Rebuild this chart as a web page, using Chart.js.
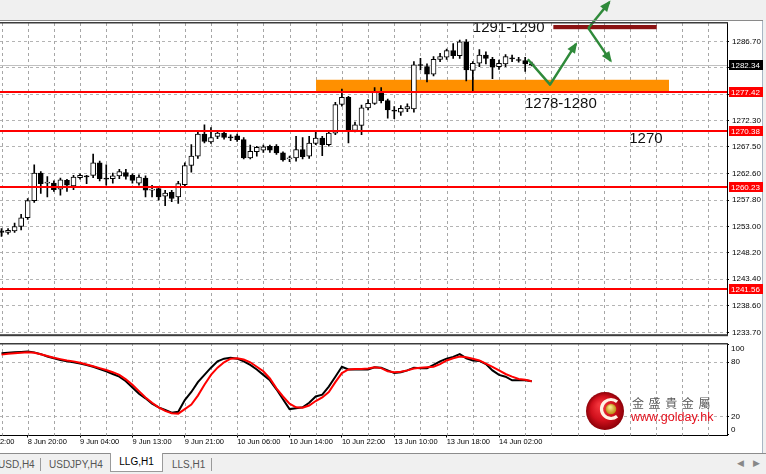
<!DOCTYPE html>
<html>
<head>
<meta charset="utf-8">
<script src="https://cdn.jsdelivr.net/npm/chart.js@4.4.1/dist/chart.umd.min.js"></script>
<style>
body { margin:0; width:766px; height:474px; background:#f0f0f0; overflow:hidden; position:relative; font-family:"Liberation Sans", Arial, sans-serif; }
#paper { position:absolute; left:0; top:20px; width:762px; height:433px; background:#fff; border-right:1px solid #a9b6c4; }
#main { position:absolute; left:0; top:0; }
#osc { position:absolute; left:0; top:343px; }
#tabs { position:absolute; left:0; top:453px; width:766px; height:21px; border-top:1px solid #8c8c8c; background:#f0f0f0; font-size:10px; color:#555; }
#tabs span { position:absolute; top:5px; white-space:nowrap; }
#tabs .sep { top:4px; width:1px; height:13px; background:#9a9a9a; }
#tabs .active { top:-1px; height:18px; line-height:18px; background:#fff; border:1px solid #9a9a9a; border-top:none; color:#000; text-align:center; }
#tabs .arr { color:#888; font-size:9px; top:4px; }
</style>
</head>
<body>
<div id="paper"></div>
<canvas id="main" width="766" height="343"></canvas>
<canvas id="osc" width="766" height="105"></canvas>
<div id="tabs">
  <span style="left:-2px">USD,H4</span>
  <span class="sep" style="left:40px"></span>
  <span style="left:49px">USDJPY,H4</span>
  <span class="active" style="left:110px;width:51px">LLG,H1</span>
  <span style="left:172px">LLS,H1</span>
  <span class="sep" style="left:211px"></span>
  <span class="arr" style="left:737px">&#9664;</span>
  <span class="arr" style="left:753px">&#9654;</span>
</div>
<script>
// LLG H1 candles, 8 Jun 16:00 .. 14 Jun 05:00
const open  = [1252.2,1251.9,1252.2,1253.0,1254.6,1257.7,1262.7,1260.9,1260.9,1259.8,
               1261.4,1260.4,1261.9,1262.2,1262.3,1264.6,1261.8,1261.7,1262.2,1262.8,
               1262.3,1260.9,1261.8,1259.6,1259.9,1258.5,1259.2,1258.4,1260.6,1264.1,
               1265.8,1269.8,1268.4,1269.4,1270.0,1269.3,1269.5,1268.8,1265.5,1266.6,
               1266.9,1267.6,1267.6,1266.4,1265.3,1265.5,1267.0,1265.8,1268.1,1269.1,
               1267.9,1270.0,1275.2,1276.5,1270.5,1271.4,1274.6,1275.4,1277.4,1275.9,
               1274.2,1273.8,1274.4,1274.4,1282.4,1282.1,1280.7,1283.4,1283.8,1285.0,
               1284.1,1286.6,1281.4,1282.7,1284.2,1283.4,1282.1,1282.6,1283.7,1283.3,
               1283.2,1282.6];
const high  = [1252.6,1252.6,1253.6,1255.2,1258.1,1264.2,1263.0,1262.1,1261.3,1261.8,
               1261.6,1262.3,1262.6,1262.3,1266.2,1264.9,1264.2,1262.7,1263.4,1263.4,
               1262.6,1262.4,1262.2,1260.5,1260.3,1259.6,1259.6,1261.2,1264.6,1267.9,
               1270.4,1271.5,1271.0,1270.3,1270.3,1269.7,1269.8,1269.2,1267.8,1267.6,
               1267.8,1267.8,1267.9,1266.6,1265.8,1269.4,1269.2,1269.4,1270.2,1269.4,
               1270.3,1275.6,1278.0,1276.7,1272.0,1275.1,1276.1,1278.3,1278.3,1276.2,
               1274.8,1275.0,1275.3,1283.0,1283.6,1282.6,1283.9,1284.5,1285.3,1286.3,
               1286.9,1287.0,1283.0,1285.2,1284.8,1283.8,1283.3,1284.3,1284.2,1283.8,
               1283.8,1282.9];
const low   = [1251.2,1251.6,1251.9,1252.4,1254.3,1257.4,1259.0,1258.4,1259.4,1258.7,
               1259.4,1259.7,1261.6,1260.8,1261.9,1261.3,1260.5,1260.9,1261.7,1261.6,
               1260.9,1260.5,1258.4,1258.4,1257.8,1256.8,1257.5,1257.2,1260.2,1262.9,
               1265.4,1268.2,1268.1,1269.0,1268.9,1268.6,1268.5,1265.3,1265.3,1265.8,
               1266.5,1266.5,1266.1,1264.9,1264.8,1264.9,1265.3,1265.4,1267.9,1265.9,
               1267.6,1269.7,1274.9,1268.2,1270.2,1269.7,1274.2,1275.2,1275.5,1272.7,
               1272.6,1273.2,1273.9,1273.8,1281.5,1279.3,1280.4,1283.0,1283.4,1283.6,
               1283.6,1279.5,1277.4,1282.1,1282.6,1279.9,1281.6,1282.1,1283.0,1282.9,
               1281.2,1282.2];
const close = [1251.9,1252.3,1253.0,1254.6,1257.7,1262.7,1260.8,1261.1,1259.7,1261.5,
               1260.5,1262.0,1262.3,1262.0,1264.6,1261.7,1261.6,1262.2,1263.0,1262.1,
               1261.4,1262.0,1259.6,1259.8,1258.4,1259.1,1258.1,1260.8,1264.1,1265.8,
               1269.8,1268.5,1269.2,1270.0,1269.2,1269.1,1268.8,1265.5,1266.7,1267.4,
               1267.5,1266.9,1266.4,1265.1,1265.5,1267.0,1265.7,1268.2,1269.1,1267.9,
               1270.0,1275.2,1276.5,1270.5,1271.5,1274.6,1275.4,1277.4,1275.9,1274.2,
               1274.0,1274.5,1274.8,1282.4,1282.3,1280.7,1283.4,1283.9,1285.0,1284.1,
               1286.6,1281.5,1282.7,1284.2,1283.6,1282.0,1282.7,1283.9,1283.5,1283.2,
               1282.6,1282.34];

// stochastic oscillator: main (black) and signal (red)
const stochK = [90,90.5,91,91.5,92,91,89,86.5,84.5,82.5,
                81,80,78.5,77,75,72.5,70,67,64,59,
                52,45,40,34,30,27,24,25,38,47,
                58,66,74,81,84,85,84,81,77,72,
                66,60,50,39,28,29,30,35,42,44,
                53,64,75,72,72,72,72,74.5,74,71,
                68,69,71,74,73.5,73.5,77,81,84,86,
                89,84.5,82,81.5,78,71,66,64,60,60,
                60,59];
const stochD = [88.5,89.5,90,90.5,91,90.5,89,87,85,83.5,
                82,81,79.5,77.5,75.5,73.5,71.5,69,66,61,
                55,48,41,35,30,26,23.5,23,28,33,
                43,55,66,74,80,84,84.5,83,80,75,
                70,62,51,42,34,30,29.5,32,37,41,
                47,58,68,72,72.5,72.5,73,74.5,73.5,70,
                69,69.5,71,73,74,74.5,75,78,82,84.5,
                86.5,85.5,84,82,78.5,75,71,67,64,61.5,
                60.5,59];

// price axis ticks (blank where a price tag covers them)
const yTicks    = [1286.70,1281.90,1277.10,1272.30,1267.50,1262.60,1257.80,1253.00,1248.20,1243.40,1238.60,1233.70];
const yTickText = ['1286.70','','','1272.30','1267.50','1262.60','1257.80','1253.00','1248.20','1243.40','1238.60','1233.70'];
// horizontal levels and the last price
const levels = [1277.42, 1270.38, 1260.23, 1241.56];
const lastPrice = 1282.34;
// time axis labels (bar index -> text)
const xLabelPos  = [-4, 4, 12, 20, 28, 36, 44, 52, 60, 68, 76];
const xLabelText = ['8 Jun 12:00','8 Jun 20:00','9 Jun 04:00','9 Jun 13:00','9 Jun 21:00','10 Jun 06:00',
                    '10 Jun 14:00','10 Jun 22:00','13 Jun 10:00','13 Jun 18:00','14 Jun 02:00'];
const oscTicks = [0, 20, 80, 100];

const idx = open.map((_, i) => i);
const X_MIN = -0.23, X_MAX = 110.83;
const GRID = '#b4b4b4';
const VGRID = '#a6a6a6';
const FONT = 'Liberation Sans';

function gridTicks(s) {
  const t = [];
  for (let v = -4; v <= 108; v += 4) t.push({ value: v });
  s.ticks = t;
}

// dotted vertical grid every 4 bars, drawn as small dashes
function vGrid(chart) {
  const { ctx, chartArea: a, scales: { x } } = chart;
  ctx.save();
  ctx.fillStyle = VGRID;
  for (let v = 0; v <= 108; v += 4) {
    const px = Math.round(x.getPixelForValue(v));
    if (px < a.left || px >= a.right) continue;
    for (let yy = Math.ceil(a.top); yy < a.bottom; yy += 6) {
      ctx.fillRect(px, yy, 1, Math.min(3, a.bottom - yy));
    }
  }
  ctx.restore();
}

function arrow(ctx, pts, color) {
  ctx.save();
  ctx.strokeStyle = color; ctx.fillStyle = color;
  ctx.lineWidth = 2.5; ctx.lineJoin = 'round';
  ctx.beginPath();
  pts.forEach((p, k) => k ? ctx.lineTo(p[0], p[1]) : ctx.moveTo(p[0], p[1]));
  ctx.stroke();
  const [a, b] = pts.slice(-2);
  const ang = Math.atan2(b[1] - a[1], b[0] - a[0]);
  ctx.translate(b[0], b[1]); ctx.rotate(ang);
  ctx.beginPath(); ctx.moveTo(2, 0); ctx.lineTo(-9, -4.5); ctx.lineTo(-9, 4.5); ctx.closePath(); ctx.fill();
  ctx.restore();
}

function tag(ctx, yPix, text, bg) {
  ctx.fillStyle = bg;
  ctx.fillRect(729, Math.round(yPix) - 5, 34, 10);
  ctx.fillStyle = '#fff';
  ctx.font = '8px ' + FONT;
  ctx.textAlign = 'left'; ctx.textBaseline = 'middle';
  ctx.fillText(text, 731, Math.round(yPix) + 0.5);
}

const mainDecor = {
  id: 'mainDecor',
  beforeDatasetsDraw(chart) {
    const { ctx, chartArea: a, scales: { x, y } } = chart;
    vGrid(chart);
    ctx.save();
    ctx.beginPath(); ctx.rect(a.left, a.top, a.right - a.left, a.bottom - a.top); ctx.clip();
    const by = Math.round(y.getPixelForValue(lastPrice)) + 0.5;
    ctx.strokeStyle = '#c0c0c0'; ctx.lineWidth = 1;
    ctx.beginPath(); ctx.moveTo(a.left, by); ctx.lineTo(a.right, by); ctx.stroke();
    // support zone
    const x1 = x.getPixelForValue(48.05), x2 = x.getPixelForValue(101.97);
    const y1 = y.getPixelForValue(1279.70), y2 = y.getPixelForValue(1277.42);
    ctx.fillStyle = '#ff9000';
    ctx.fillRect(x1, y1, x2 - x1, y2 - y1);
    ctx.restore();
  },
  afterDatasetsDraw(chart) {
    const { ctx, chartArea: a, scales: { x, y } } = chart;
    ctx.save();
    ctx.beginPath(); ctx.rect(a.left, a.top, a.right - a.left, a.bottom - a.top); ctx.clip();
    ctx.strokeStyle = '#ff0000'; ctx.lineWidth = 2;
    levels.forEach(v => {
      const py = Math.round(y.getPixelForValue(v));
      ctx.beginPath(); ctx.moveTo(a.left, py); ctx.lineTo(a.right, py); ctx.stroke();
    });
    // resistance bar
    const rx1 = x.getPixelForValue(84.3), rx2 = x.getPixelForValue(100.1);
    const ry1 = y.getPixelForValue(1289.67), ry2 = y.getPixelForValue(1288.9);
    ctx.fillStyle = '#8b1212';
    ctx.fillRect(rx1, ry1, rx2 - rx1, ry2 - ry1);
    ctx.restore();

    ctx.save();
    ctx.fillStyle = '#111';
    ctx.font = '15px ' + FONT;
    ctx.textAlign = 'left'; ctx.textBaseline = 'middle';
    [['1291-1290', 72.0, 1289.23], ['1278-1280', 79.97, 1275.25], ['1270', 95.9, 1269.02]]
      .forEach(([t, xi, p]) => ctx.fillText(t, x.getPixelForValue(xi), y.getPixelForValue(p)));
    ctx.restore();

    const P = (xi, p) => [x.getPixelForValue(xi), y.getPixelForValue(p)];
    const green = '#2f8a3a';
    arrow(ctx, [P(80.4, 1283.44), P(83.8, 1278.81), P(87.77, 1286.24)], green);
    arrow(ctx, [P(89.64, 1289.09), P(92.85, 1293.82)], green);
    arrow(ctx, [P(89.64, 1289.09), P(93.06, 1283.14)], green);
  },
  afterDraw(chart) {
    const { ctx, chartArea: a, scales: { y } } = chart;
    ctx.save();
    ctx.fillStyle = '#8a8a8a'; ctx.fillRect(0, 20, 763, 1);
    ctx.fillStyle = '#3c3c3c'; ctx.fillRect(0, 22, 728, 1.5);
    ctx.fillStyle = '#3c3c3c'; ctx.fillRect(0, a.bottom - 1, 728, 2);
    tag(ctx, y.getPixelForValue(lastPrice), '1282.34', '#000');
    levels.forEach(v => tag(ctx, y.getPixelForValue(v), v.toFixed(2), '#ff0000'));
    ctx.restore();
  }
};

const oscDecor = {
  id: 'oscDecor',
  beforeDatasetsDraw(chart) {
    vGrid(chart);
  },
  afterDraw(chart) {
    const { ctx, chartArea: a, scales: { y } } = chart;
    ctx.save();
    ctx.fillStyle = '#3c3c3c'; ctx.fillRect(0, 0, 728, 1.5);
    ctx.fillStyle = '#000';
    ctx.font = '8px ' + FONT;
    ctx.textAlign = 'left'; ctx.textBaseline = 'middle';
    oscTicks.forEach(v => {
      const py = Math.min(Math.max(y.getPixelForValue(v), a.top + 6), a.bottom - 5.5);
      ctx.fillText(String(v), 731, py);
    });

    // golday watermark
    const cx = 605, cy = 68, r = 19;
    const g = ctx.createRadialGradient(cx - 5, cy - 6, 2, cx, cy, r);
    g.addColorStop(0, '#f2333b'); g.addColorStop(0.6, '#d0101c'); g.addColorStop(1, '#8c0008');
    ctx.fillStyle = g;
    ctx.beginPath(); ctx.arc(cx, cy, r, 0, Math.PI * 2); ctx.fill();
    ctx.strokeStyle = '#fff3e6'; ctx.lineWidth = 3.2;
    ctx.beginPath(); ctx.arc(cx + 6, cy - 2, 9.5, Math.PI * 0.28, Math.PI * 1.72); ctx.stroke();
    const gg = ctx.createRadialGradient(cx + 5, cy - 4, 1, cx + 6, cy - 2, 5.5);
    gg.addColorStop(0, '#f7e28a'); gg.addColorStop(1, '#b8860b');
    ctx.fillStyle = gg;
    ctx.beginPath(); ctx.arc(cx + 6, cy - 2, 5.3, 0, Math.PI * 2); ctx.fill();

    ctx.fillStyle = '#5a5a5a';
    ctx.font = '12px "Noto Sans CJK TC"';
    ctx.letterSpacing = '4.6px';
    ctx.fillText('金盛貴金屬', 632, 60);
    ctx.letterSpacing = '0px';
    ctx.fillStyle = '#e3101d';
    ctx.font = '12.5px ' + FONT;
    ctx.fillText('www.golday.hk', 631, 74.5);
    ctx.restore();
  }
};

new Chart(document.getElementById('main'), {
  type: 'bar',
  data: {
    datasets: [
      {
        label: 'range',
        data: idx.map(i => ({ x: i, y: [low[i], high[i]] })),
        backgroundColor: '#000',
        barThickness: 1,
        grouped: false,
        order: 2
      },
      {
        label: 'body',
        data: idx.map(i => ({ x: i, y: [open[i], close[i]] })),
        backgroundColor: c => close[c.dataIndex] >= open[c.dataIndex] ? '#fff' : '#000',
        borderColor: '#000',
        borderWidth: 1,
        borderSkipped: false,
        barThickness: 5,
        minBarLength: 1,
        grouped: false,
        order: 1
      }
    ]
  },
  options: {
    responsive: false,
    animation: false,
    events: [],
    layout: { padding: { top: 23, bottom: 1, left: 0, right: 0 } },
    plugins: { legend: { display: false }, tooltip: { enabled: false } },
    scales: {
      x: {
        type: 'linear', min: X_MIN, max: X_MAX, offset: false,
        afterBuildTicks: gridTicks,
        afterFit: s => { s.height = 0; s.paddingLeft = 0; s.paddingRight = 0; },
        ticks: { display: false },
        grid: { display: false },
        border: { display: false }
      },
      y: {
        position: 'right', min: 1233.22, max: 1290.03, beginAtZero: false,
        afterBuildTicks: s => { s.ticks = yTicks.map(v => ({ value: v })); },
        afterFit: s => { s.width = 39; },
        ticks: { callback: (v, i) => yTickText[i], color: '#000', padding: 3, font: { size: 8, family: FONT } },
        grid: { color: GRID, tickColor: '#000', tickLength: 2 },
        border: { display: true, color: '#000', dash: [3, 3] }
      }
    }
  },
  plugins: [mainDecor]
});

new Chart(document.getElementById('osc'), {
  type: 'line',
  data: {
    datasets: [
      { label: 'Main', data: idx.map(i => ({ x: i, y: stochK[i] })), borderColor: '#000', borderWidth: 2, pointRadius: 0, order: 2 },
      { label: 'Signal', data: idx.map(i => ({ x: i, y: stochD[i] })), borderColor: '#ff0000', borderWidth: 2, pointRadius: 0, order: 1 }
    ]
  },
  options: {
    responsive: false,
    animation: false,
    events: [],
    layout: { padding: { top: 0, bottom: 0, left: 0, right: 0 } },
    plugins: { legend: { display: false }, tooltip: { enabled: false } },
    scales: {
      x: {
        type: 'linear', min: X_MIN, max: X_MAX, offset: false,
        afterBuildTicks: gridTicks,
        afterFit: s => { s.height = 12.5; s.paddingLeft = 0; s.paddingRight = 0; },
        ticks: {
          autoSkip: false, maxRotation: 0, minRotation: 0, align: 'start', padding: 0,
          color: '#000', font: { size: 7.5, family: FONT },
          callback: v => { const k = xLabelPos.indexOf(v); return k >= 0 ? xLabelText[k] : ''; }
        },
        grid: {
          display: true, drawOnChartArea: false, offset: false, tickLength: 2,
          color: 'rgba(0,0,0,0)',
          tickColor: c => (c.tick && xLabelPos.includes(c.tick.value)) ? '#000' : 'rgba(0,0,0,0)'
        },
        border: { display: true, color: '#000' }
      },
      y: {
        position: 'right', min: -1.3, max: 101.4,
        afterBuildTicks: s => { s.ticks = oscTicks.map(v => ({ value: v })); },
        afterFit: s => { s.width = 39; },
        ticks: { display: false },
        grid: {
          color: c => (c.tick && (c.tick.value === 20 || c.tick.value === 80)) ? GRID : 'rgba(0,0,0,0)',
          tickColor: '#000', tickLength: 2
        },
        border: { display: true, color: '#000', dash: [3, 3] }
      }
    }
  },
  plugins: [oscDecor]
});
</script>
</body>
</html>
